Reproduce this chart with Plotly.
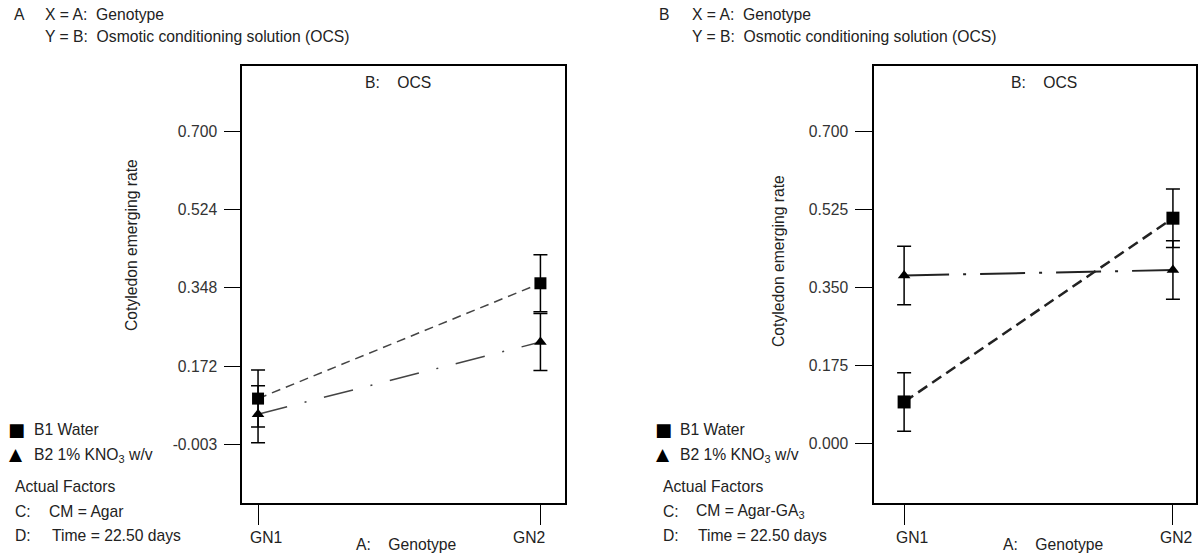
import plotly.graph_objects as go

W, H = 1198, 555
FONT = "Liberation Sans, Arial, sans-serif"
FS = 15.7
TXT = "#222222"

# ---- data ----
genotypes = ["GN1", "GN2"]
a_water = [0.099, 0.358]
a_kno3 = [0.064, 0.226]
a_err = [0.064, 0.064]
b_water = [0.094, 0.505]
b_kno3 = [0.377, 0.389]
b_err = [0.0655, 0.0655]
a_yticks = [0.700, 0.524, 0.348, 0.172, -0.003]
b_yticks = [0.700, 0.525, 0.350, 0.175, 0.000]


def px(x):
    return x / W


def py(y):
    return 1 - y / H


fig = go.Figure()


def add_series(xa, ya, yvals, err, symbol, size, dash, lw, lcolor):
    fig.add_trace(go.Scatter(
        x=genotypes, y=yvals, xaxis=xa, yaxis=ya, mode="lines+markers",
        line=dict(color=lcolor, width=lw, dash=dash),
        marker=dict(symbol=symbol, size=size, color="black"),
        error_y=dict(type="data", array=err, visible=True, color="black",
                     thickness=1.5, width=7),
        showlegend=False, hoverinfo="skip"))


add_series("x", "y", a_water, a_err, "square", 12, "9px,6px", 1.5, "#444444")
add_series("x", "y", a_kno3, a_err, "triangle-up", 11, "30px,18px,2px,18px", 1.5, "#444444")
add_series("x2", "y2", b_water, b_err, "square", 13, "11px,6px", 2.5, "#222222")
add_series("x2", "y2", b_kno3, b_err, "triangle-up", 11, "45px,14px,3px,14px", 2, "#222222")

yd = [py(503), py(66)]
axcommon = dict(showline=True, linecolor="black", linewidth=1.5, mirror=True,
                showgrid=False, zeroline=False, ticks="outside", tickcolor="black",
                tickwidth=1.3)

fig.update_layout(
    width=W, height=H, margin=dict(l=0, r=0, t=0, b=0),
    paper_bgcolor="white", plot_bgcolor="white",
    font=dict(family=FONT, size=FS, color=TXT),
    xaxis=dict(domain=[px(242), px(565)], type="category", categoryarray=genotypes,
               range=[-0.0568, 1.087], ticklen=20, showticklabels=False,
               anchor="y", **axcommon),
    yaxis=dict(domain=yd, range=[-0.1355, 0.846], tickvals=a_yticks,
               ticktext=[f"{v:.3f}" for v in a_yticks], ticklen=16,
               ticklabelstandoff=4, tickfont=dict(color="#333333", size=FS),
               anchor="x", **axcommon),
    xaxis2=dict(domain=[px(874), px(1196)], type="category", categoryarray=genotypes,
                range=[-0.112, 1.0858], ticklen=20, showticklabels=False,
                anchor="y2", **axcommon),
    yaxis2=dict(domain=yd, range=[-0.132, 0.8454], tickvals=b_yticks,
                ticktext=[f"{v:.3f}" for v in b_yticks], ticklen=17,
                ticklabelstandoff=4, tickfont=dict(color="#333333", size=FS),
                anchor="x2", **axcommon),
)

ann = []


def t(x, y, text, xanchor="left", angle=0, size=FS, family=FONT, color=TXT):
    ann.append(dict(x=px(x), y=py(y), xref="paper", yref="paper", text=text,
                    showarrow=False, xanchor=xanchor, yanchor="middle",
                    textangle=angle, font=dict(family=family, size=size, color=color)))


panels = [
    dict(letter="A", xaxis="x", cm="CM = Agar", ytitle=(132, 245),
         title_c=398, xt_c=406, shifts=[8, -11],
         lg=dict(sym=16, txt=32, af=13, cm=47, time=50)),
    dict(letter="B", xaxis="x2", cm="CM = Agar-GA<sub>3</sub>", ytitle=(778, 261),
         title_c=1044, xt_c=1053, shifts=[8, 3],
         lg=dict(sym=663, txt=678, af=661, cm=694, time=696)),
]

hdr = {"A": (12, 43), "B": (657, 690)}
for p in panels:
    lx, tx = hdr[p["letter"]]
    t(lx, 15, p["letter"])
    t(tx, 15, "X = A:  Genotype")
    t(tx, 37, "Y = B:  Osmotic conditioning solution (OCS)")
    t(p["title_c"], 82, "B:    OCS", xanchor="center")
    t(p["ytitle"][0], p["ytitle"][1], "Cotyledon emerging rate", xanchor="center", angle=-90)
    t(p["xt_c"], 544, "A:    Genotype", xanchor="center")
    lg = p["lg"]
    t(lg["sym"], 429, "■", xanchor="center", size=18, family="DejaVu Sans", color="black")
    t(lg["txt"], 429, "B1 Water")
    t(lg["sym"], 454, "▲", xanchor="center", size=17, family="DejaVu Sans", color="black")
    t(lg["txt"], 455, "B2 1% KNO<sub>3</sub> w/v")
    t(lg["af"], 486, "Actual Factors")
    t(lg["af"], 511, "C:")
    t(lg["cm"], 511, p["cm"])
    t(lg["af"], 535, "D:")
    t(lg["time"], 535, "Time = 22.50 days")
    # category tick labels, placed on the category axis
    for g, s in zip(genotypes, p["shifts"]):
        ann.append(dict(x=g, xref=p["xaxis"], y=py(537), yref="paper", text=g,
                        showarrow=False, xanchor="center", yanchor="middle", xshift=s,
                        font=dict(family=FONT, size=FS, color=TXT)))

fig.update_layout(annotations=ann)
fig.write_html("out.html")
